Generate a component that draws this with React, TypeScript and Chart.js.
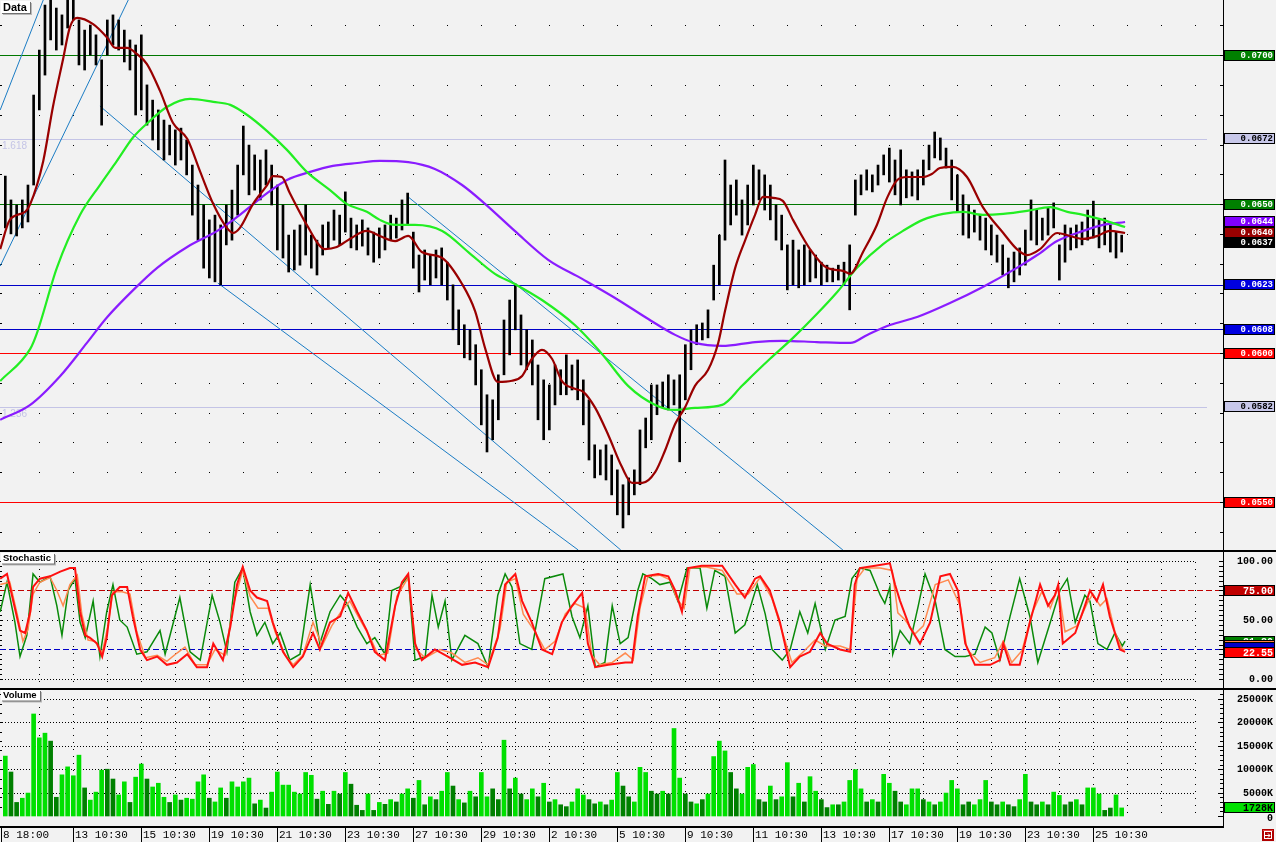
import React, { useEffect, useRef } from "react";
import { Chart, registerables } from "chart.js";

Chart.register(...registerables);

// ---------------- data ----------------
const xTickLabels = ["8 18:00", "13 10:30", "15 10:30", "19 10:30", "21 10:30", "23 10:30", "27 10:30", "29 10:30", "2 10:30", "5 10:30", "9 10:30", "11 10:30", "13 10:30", "17 10:30", "19 10:30", "23 10:30", "25 10:30"];
const BARS_PER_LABEL = 12;
const BARS_PER_GRID = 6;

// prices in units of 0.0001
const highs = [659.4, 651.4, 649.7, 651.4, 656.4, 686.6, 701.7, 716.8, 721, 715.8,
  713.5, 719.5, 720, 711.8, 708.4, 710.1, 706.8, 698.4, 711.8, 713.5,
  711.8, 708.4, 705.1, 703.4, 706.8, 690.0, 684.9, 681.6, 678.2, 676.5,
  674.9, 675.5, 671.5, 663.1, 656.4, 649.7, 644.7, 646.3, 643.0, 649.7,
  654.7, 663.1, 676.2, 669.8, 666.5, 664.8, 668.2, 663.1, 656.4, 649.7,
  639.6, 641.3, 643.0, 649.7, 639.6, 637.9, 643.0, 644.0, 648.0, 646.3,
  654.1, 645.3, 643.0, 644.7, 642.0, 640.6, 642.0, 643.0, 646.3, 645.3,
  651.4, 653.7, 640.6, 632.9, 634.6, 632.9, 634.6, 635.3, 630.5, 622.9,
  614.5, 609.5, 607.8, 602.8, 594.4, 586.0, 584.3, 592.7, 611.1, 617.8,
  623.2, 612.8, 607.8, 604.4, 596.0, 591.0, 589.3, 596.0, 594.4, 599.4,
  596.0, 597.7, 591.0, 584.3, 569.2, 567.5, 569.2, 565.8, 560.8, 555.8,
  558.1, 560.8, 574.2, 578.2, 589.3, 589.3, 590.3, 592.7, 591.0, 592.7,
  602.8, 607.8, 609.5, 610.1, 614.5, 629.5, 639.6, 664.8, 656.4, 658.1,
  651.4, 656.4, 663.1, 661.5, 659.8, 656.4, 649.7, 646.3, 636.3, 637.9,
  634.6, 636.3, 634.6, 632.9, 630.5, 629.5, 628.5, 629.5, 630.5, 636.3,
  658.1, 659.8, 661.5, 659.8, 663.1, 666.5, 668.8, 664.8, 668.2, 661.5,
  660.8, 661.5, 664.8, 669.8, 674.2, 672.2, 668.8, 664.8, 659.8, 653.1,
  649.7, 648.0, 646.3, 645.3, 643.0, 639.6, 636.3, 631.9, 633.9, 635.3,
  641.3, 651.4, 648.0, 645.3, 648.7, 650.4, 636.3, 643.0, 642.0, 643.0,
  644.0, 648.0, 651.0, 644.7, 645.3, 643.0, 640.6, 639.6];
const lows = [642.0, 640.0, 639.3, 642.0, 644.0, 656.4, 681.6, 693.3, 705.1, 701.7,
  703.4, 709.1, 711.8, 696.7, 695.0, 700.0, 696.7, 676.5, 700.0, 703.4,
  701.7, 697.7, 695.0, 679.9, 681.6, 676.5, 671.5, 668.2, 664.8, 666.5,
  663.1, 664.8, 659.8, 646.3, 637.9, 628.5, 625.2, 623.9, 622.9, 636.3,
  637.9, 646.3, 659.8, 653.1, 654.7, 651.4, 656.4, 649.7, 634.6, 631.9,
  627.2, 627.9, 629.5, 632.9, 628.5, 626.2, 632.9, 635.3, 637.9, 636.3,
  640.6, 635.3, 634.6, 635.9, 632.9, 630.5, 631.9, 634.6, 637.9, 638.6,
  641.3, 643.0, 628.5, 620.5, 624.5, 622.9, 625.2, 622.9, 617.8, 607.8,
  602.8, 598.4, 597.7, 589.3, 575.9, 566.8, 570.9, 577.6, 592.7, 599.4,
  607.8, 596.0, 594.4, 589.3, 577.6, 570.9, 574.2, 582.6, 586.0, 586.0,
  587.6, 584.3, 575.9, 564.1, 558.1, 559.1, 557.4, 552.4, 545.7, 541.3,
  545.7, 552.4, 555.8, 568.2, 570.9, 579.3, 581.6, 580.9, 582.6, 563.5,
  584.3, 594.4, 602.8, 604.4, 605.1, 617.8, 622.9, 637.9, 643.0, 646.3,
  639.6, 643.0, 649.7, 651.4, 648.0, 644.7, 637.9, 634.6, 621.2, 622.9,
  621.9, 622.9, 623.9, 625.2, 622.9, 623.9, 623.9, 624.5, 622.9, 614.5,
  646.3, 653.1, 654.7, 654.1, 656.4, 659.8, 657.4, 653.1, 649.7, 652.1,
  652.7, 651.4, 656.4, 661.5, 665.5, 664.8, 662.1, 651.4, 647.4, 639.6,
  638.6, 640.6, 637.9, 634.6, 632.9, 630.5, 626.2, 621.9, 623.9, 626.2,
  629.5, 637.9, 636.3, 637.9, 639.6, 642.0, 624.5, 630.5, 634.6, 635.3,
  636.3, 637.9, 638.6, 635.3, 636.3, 633.9, 631.9, 633.9];
const lastClose = 637;

// volume in thousands
const volumes = [12800, 9400, 2900, 3800, 4900, 21800, 16700, 17700, 16000, 4000,
  8800, 10500, 8600, 13000, 6000, 3400, 5100, 9800, 10000, 7900,
  4500, 7300, 2900, 8300, 11100, 7900, 6200, 7000, 4000, 2900,
  4500, 3400, 3800, 3600, 7300, 8800, 3800, 3000, 6000, 3800,
  7300, 6200, 7300, 8100, 2600, 3400, 1700, 5100, 9400, 6600,
  6600, 5100, 4700, 9300, 8700, 3600, 5300, 2500, 5300, 4700,
  9300, 6800, 2300, 1200, 4700, 1200, 2900, 2500, 3500, 3000,
  4700, 5800, 3800, 7600, 2400, 4100, 3500, 5300, 9300, 6400,
  3500, 2800, 5300, 4100, 9300, 4100, 5800, 3500, 16200, 5800,
  8100, 4700, 3500, 5800, 4100, 7000, 3000, 3500, 2400, 2000,
  3000, 5800, 4500, 3500, 2600, 3000, 2400, 3400, 9300, 6400,
  4100, 3000, 10400, 9300, 5300, 4700, 5300, 4700, 18700, 8100,
  4700, 3000, 2600, 3500, 4700, 12700, 16000, 13900, 9300, 5800,
  4700, 10400, 11000, 3500, 3000, 6400, 3500, 4100, 11400, 4100,
  7000, 3000, 8400, 5300, 3500, 1800, 2400, 2400, 3000, 7600,
  9900, 5800, 3000, 3500, 3000, 8900, 7000, 5300, 3000, 2400,
  5800, 5800, 3500, 3000, 2400, 3000, 4900, 7600, 5800, 2400,
  3000, 2400, 3500, 7600, 3000, 2400, 3000, 2400, 2000, 3500,
  8900, 3000, 2400, 3000, 2400, 5100, 4400, 2400, 3000, 3500,
  2400, 6000, 6000, 4700, 1200, 1700, 4500, 1728];
const upBars = [1, 0, 0, 1, 1, 1, 1, 1, 0, 0, 1, 1, 1, 1, 0, 1, 1, 1, 0, 0,
  1, 1, 0, 1, 1, 0, 1, 1, 1, 0, 1, 0, 1, 1, 1, 1, 0, 1, 1, 0,
  1, 1, 1, 1, 0, 1, 0, 1, 1, 1, 1, 1, 1, 1, 1, 0, 1, 0, 1, 0,
  1, 0, 0, 0, 1, 0, 1, 0, 1, 0, 1, 1, 0, 1, 0, 1, 0, 1, 1, 0,
  1, 0, 1, 0, 1, 1, 0, 0, 1, 0, 1, 0, 1, 1, 0, 1, 0, 1, 0, 0,
  1, 1, 1, 0, 0, 1, 0, 1, 1, 0, 0, 1, 1, 1, 0, 0, 1, 0, 1, 1,
  0, 0, 1, 0, 1, 1, 1, 1, 0, 0, 1, 1, 1, 0, 0, 1, 0, 1, 1, 0,
  1, 0, 1, 1, 0, 0, 1, 0, 1, 1, 1, 1, 0, 1, 0, 1, 1, 0, 0, 1,
  1, 1, 0, 1, 0, 1, 1, 1, 1, 0, 0, 1, 1, 1, 0, 0, 1, 0, 0, 1,
  1, 0, 0, 1, 0, 1, 1, 0, 0, 1, 0, 1, 1, 1, 0, 0, 1, 1];
const lastVolume = 1728;
const volumeGrid = [5000, 10000, 15000, 20000, 25000];

// moving averages: [bar index, price in 0.0001]
const maFast = [[-0.9, 634.9], [0.8, 644.7], [3.5, 647.4], [4.4, 650.0], [6.7, 664.5], [8.4, 682.6], [10.2, 698.7], [11.4, 709.4], [12.7, 712.5], [15.5, 710.4], [18.0, 705.8], [19.4, 702.4], [21.5, 702.4], [23.2, 700.4], [25.0, 697.0], [27.3, 688.0], [29.6, 677.2], [32.1, 671.9], [34.4, 660.8], [36.7, 650.0], [39.1, 642.0], [40.2, 640.3], [41.4, 642.0], [43.7, 650.0], [46.2, 656.4], [47.2, 659.4], [48.8, 659.1], [50.2, 653.7], [53.2, 643.0], [56.4, 634.9], [58.5, 635.6], [60.8, 638.3], [63.8, 641.0], [66.1, 639.3], [68.8, 637.6], [71.1, 639.3], [73.5, 633.9], [77.1, 631.9], [80.6, 623.2], [82.9, 614.1], [84.7, 601.4], [86.9, 590.3], [89.4, 590.7], [91.2, 592.3], [92.9, 598.0], [94.7, 601.1], [96.5, 598.0], [98.2, 590.7], [100.5, 588.0], [102.0, 587.0], [104.1, 581.6], [106.4, 572.5], [108.8, 561.8], [110.6, 556.4], [112.4, 556.4], [114.7, 560.1], [116.4, 567.2], [118.2, 576.2], [119.9, 581.6], [121.7, 589.0], [124.0, 594.3], [125.8, 603.4], [127.0, 614.1], [128.8, 628.6], [130.5, 637.6], [132.3, 646.4], [133.7, 652.4], [135.5, 652.1], [137.2, 651.1], [139.0, 644.7], [142.0, 634.9], [145.0, 628.6], [147.8, 627.6], [149.1, 626.6], [151.4, 634.1], [153.8, 643.0], [155.6, 652.1], [157.4, 658.1], [159.1, 659.1], [161.9, 659.1], [163.5, 660.1], [164.9, 662.1], [167.2, 662.5], [169.7, 659.1], [172.5, 649.0], [176.1, 640.3], [178.5, 634.9], [180.3, 632.9], [182.6, 634.9], [185.6, 640.3], [187.9, 639.3], [190.2, 638.3], [192.7, 639.3], [194.9, 641.0], [197.6, 640.3]];
const maMid = [[-0.9, 590.6], [4.4, 601.4], [5.6, 606.8], [9.1, 628.6], [13.2, 646.4], [16.7, 656.4], [19.7, 664.5], [22.6, 672.5], [25.5, 677.9], [28.5, 682.6], [32.6, 685.3], [36.7, 684.3], [39.7, 683.3], [42.7, 679.9], [46.2, 674.5], [49.7, 668.2], [53.2, 660.8], [57.3, 654.7], [60.3, 650.0], [63.8, 647.4], [66.1, 644.7], [68.8, 643.0], [72.3, 643.0], [77.1, 641.0], [81.7, 633.9], [86.4, 626.6], [89.9, 623.2], [94.7, 617.8], [100.5, 609.4], [105.3, 599.7], [109.9, 589.0], [114.7, 582.6], [118.2, 580.9], [121.7, 581.6], [126.5, 582.6], [130.0, 589.0], [132.3, 593.3], [134.9, 598.0], [139.0, 605.1], [143.2, 613.1], [146.8, 620.5], [150.3, 628.6], [154.9, 636.6], [158.4, 641.0], [161.9, 644.7], [165.5, 646.7], [169.0, 647.4], [172.5, 646.4], [176.1, 646.7], [180.3, 647.7], [184.4, 649.0], [187.4, 647.4], [190.2, 646.4], [193.7, 644.7], [197.6, 642.3]];
const maSlow = [[-0.9, 577.6], [4.4, 582.6], [9.7, 592.3], [14.4, 603.4], [18.0, 612.1], [22.6, 621.2], [26.8, 628.6], [32.1, 635.6], [37.4, 641.0], [41.4, 646.4], [46.2, 653.7], [49.7, 658.1], [53.8, 660.8], [57.8, 662.8], [62.1, 663.8], [66.1, 664.5], [71.1, 664.1], [75.8, 661.8], [80.6, 656.4], [84.7, 650.0], [89.9, 641.0], [95.8, 631.3], [101.8, 624.9], [107.6, 618.5], [113.4, 611.5], [118.2, 606.1], [121.7, 603.4], [126.5, 602.4], [132.3, 603.7], [137.2, 604.1], [143.2, 603.7], [149.1, 603.4], [152.1, 606.1], [156.1, 609.4], [160.9, 612.1], [166.7, 616.8], [172.5, 622.2], [178.5, 628.6], [182.1, 632.9], [185.6, 637.6], [190.2, 641.0], [193.7, 643.0], [197.6, 644.0]];

// trend lines: [[index, price], [index, price]]
const trendLines = [
  [[-0.9, 681.6], [6.7, 718.5]],
  [[-0.9, 629.2], [21.7, 718.5]],
  [[16.7, 682.9], [108.6, 533.9]],
  [[37.5, 623.5], [101.1, 533.9]],
  [[70.9, 652.7], [147.8, 533.9]],
];

// horizontal levels (0.0001 units)
const levelValues = [700, 672, 650, 623, 608, 600, 582, 550];
const fibLevels = [672, 582];
const fibNames = ["1.618", "1.236"];

// stochastic: [bar index, value]
const stochRed = [[-0.9, 85], [0.3, 89], [1.4, 66], [2.6, 41], [3.5, 39], [4.4, 57], [4.9, 78], [6.1, 85], [7.9, 87], [9.7, 91], [11.4, 94], [12.3, 94], [13.2, 57], [14.1, 37], [14.9, 35], [16.2, 30], [17.1, 19], [17.9, 35], [18.8, 71], [20.2, 78], [21.5, 78], [22.5, 53], [23.8, 25], [25.0, 16], [26.8, 19], [28.5, 12], [30.3, 14], [32.1, 21], [33.8, 10], [35.6, 10], [36.7, 30], [38.4, 16], [39.7, 44], [40.9, 80], [41.9, 95], [43.2, 75], [44.4, 69], [46.2, 66], [47.2, 48], [49.0, 23], [50.8, 10], [52.5, 19], [54.3, 39], [55.5, 25], [57.3, 48], [59.1, 53], [60.5, 73], [62.1, 57], [63.8, 41], [65.2, 23], [67.0, 16], [68.8, 62], [70.0, 82], [71.1, 89], [72.3, 30], [73.5, 16], [75.8, 25], [78.1, 19], [80.6, 12], [82.9, 14], [85.2, 10], [86.9, 35], [88.2, 80], [90.0, 89], [91.2, 66], [92.9, 48], [94.7, 25], [96.5, 21], [98.2, 48], [100.0, 62], [101.8, 73], [102.8, 30], [104.1, 10], [106.4, 12], [109.4, 14], [110.6, 14], [111.6, 53], [112.9, 87], [115.2, 89], [117.0, 87], [118.2, 75], [119.4, 57], [120.5, 94], [122.9, 96], [126.5, 96], [128.8, 80], [130.5, 69], [132.3, 85], [133.2, 87], [134.9, 75], [136.7, 48], [138.5, 10], [140.2, 19], [142.0, 23], [143.8, 39], [145.0, 30], [147.3, 25], [149.1, 23], [149.9, 80], [150.8, 94], [153.5, 96], [156.1, 98], [157.0, 80], [157.9, 66], [159.6, 44], [161.4, 30], [163.2, 48], [165.0, 87], [166.7, 89], [168.1, 75], [169.4, 30], [171.1, 12], [173.8, 12], [175.5, 16], [176.1, 30], [177.3, 12], [179.0, 12], [180.8, 48], [182.6, 80], [184.0, 62], [185.2, 71], [185.8, 80], [186.6, 30], [188.8, 39], [190.5, 62], [191.4, 75], [192.6, 66], [193.7, 80], [194.9, 53], [196.7, 25], [197.6, 23]];
const stochOrange = [[-0.9, 80], [0.8, 82], [2.1, 55], [3.1, 32], [4.0, 42], [4.9, 72], [6.1, 82], [7.9, 86], [9.1, 75], [10.2, 62], [11.4, 80], [12.7, 88], [13.5, 55], [14.6, 33], [15.8, 32], [17.1, 22], [18.1, 45], [19.0, 74], [20.6, 74], [22.0, 72], [23.2, 40], [24.7, 18], [26.8, 20], [28.5, 15], [30.3, 22], [31.7, 27], [33.5, 12], [35.6, 12], [37.0, 25], [38.8, 20], [40.2, 62], [41.9, 92], [43.2, 70], [44.6, 60], [46.4, 60], [47.6, 40], [49.4, 20], [50.8, 12], [52.5, 20], [54.3, 48], [55.9, 28], [57.6, 45], [59.4, 58], [60.8, 66], [62.6, 50], [64.4, 35], [65.8, 20], [67.5, 22], [69.1, 70], [71.1, 86], [72.5, 25], [74.1, 18], [76.7, 25], [78.8, 22], [81.1, 14], [83.4, 18], [85.2, 12], [87.3, 42], [88.5, 82], [90.0, 85], [91.4, 55], [93.5, 40], [95.2, 25], [97.0, 32], [98.8, 55], [100.5, 64], [102.3, 60], [103.5, 20], [104.9, 12], [107.1, 14], [109.4, 22], [110.8, 16], [112.0, 60], [113.4, 87], [115.5, 88], [117.3, 84], [118.5, 68], [119.8, 60], [120.8, 94], [123.5, 95], [126.5, 92], [129.1, 72], [131.1, 72], [133.2, 86], [135.3, 68], [137.1, 40], [138.8, 14], [140.6, 22], [142.9, 33], [144.7, 28], [147.3, 28], [149.1, 25], [150.3, 85], [151.7, 94], [154.4, 94], [156.5, 92], [157.5, 56], [158.8, 50], [160.5, 38], [162.0, 45], [164.1, 80], [166.4, 84], [168.5, 62], [169.7, 25], [172.0, 14], [174.6, 18], [176.1, 32], [177.6, 14], [179.4, 24], [181.2, 56], [182.9, 74], [184.4, 60], [185.8, 78], [187.0, 40], [189.1, 45], [190.9, 64], [191.9, 72], [193.2, 62], [194.4, 68], [195.8, 40], [197.1, 25], [197.6, 25]];
const stochGreen = [[-0.9, 57], [0.3, 82], [1.7, 48], [2.6, 19], [3.8, 37], [4.9, 89], [6.1, 82], [7.9, 87], [9.1, 62], [10.0, 37], [11.1, 75], [12.3, 85], [13.2, 48], [14.1, 35], [15.5, 66], [16.7, 19], [17.9, 57], [19.0, 80], [20.2, 50], [21.5, 44], [23.2, 21], [25.0, 23], [27.3, 41], [28.2, 21], [30.8, 69], [32.6, 23], [34.4, 16], [36.5, 71], [37.9, 48], [39.1, 23], [40.5, 82], [41.9, 94], [43.2, 57], [44.4, 37], [45.8, 48], [47.2, 30], [48.5, 39], [50.2, 16], [52.0, 21], [53.8, 80], [55.5, 30], [57.3, 57], [59.1, 71], [60.3, 64], [62.1, 44], [63.8, 30], [65.2, 35], [67.0, 21], [68.2, 75], [69.6, 78], [71.1, 87], [72.3, 16], [74.1, 19], [75.3, 71], [76.4, 44], [77.6, 66], [78.8, 16], [81.1, 37], [83.4, 30], [85.2, 10], [86.9, 71], [88.2, 89], [89.4, 78], [90.8, 30], [92.9, 25], [95.2, 85], [98.4, 89], [100.0, 53], [101.4, 35], [102.8, 62], [104.1, 10], [105.8, 14], [107.1, 62], [108.5, 30], [109.9, 35], [111.6, 75], [112.5, 89], [114.1, 85], [115.5, 80], [117.3, 82], [118.7, 66], [120.3, 94], [122.6, 94], [123.8, 60], [125.2, 92], [127.0, 87], [128.8, 39], [130.5, 46], [132.7, 80], [134.1, 55], [135.3, 25], [137.1, 16], [138.5, 25], [140.2, 57], [141.6, 39], [142.9, 64], [144.7, 25], [146.4, 50], [148.2, 53], [149.4, 85], [150.8, 94], [152.6, 92], [154.4, 71], [155.2, 64], [156.1, 78], [156.6, 21], [157.9, 41], [159.6, 30], [161.1, 62], [162.3, 89], [164.1, 66], [165.8, 25], [167.6, 19], [169.4, 19], [171.1, 21], [172.9, 44], [174.1, 39], [175.5, 16], [177.3, 53], [179.0, 85], [180.8, 53], [182.2, 14], [184.4, 48], [186.1, 75], [187.4, 85], [188.8, 48], [190.5, 71], [191.4, 66], [192.8, 30], [194.4, 25], [195.8, 39], [197.1, 28], [197.6, 32]];
const stochLevels = [75, 25];
const stochLastRed = 22.55;
const stochLastGreen = 31.8;
const stochLastOrange = 28.4;
const stochLastBlue = 26.7;

// ---------------- layout / style ----------------
const W = 1276;
const RIGHT_W = 53;
const BG = "#f2f2f2";
const X_MIN = -0.935;
const X_MAX = X_MIN + (W - RIGHT_W) / 5.667;
const MONO = '"Liberation Mono", "DejaVu Sans Mono", monospace';
const SANS = '"Liberation Sans", Arial, sans-serif';
const levelColors = ["#007800", "#c4c4e6", "#007800", "#0000c8", "#0000c8", "#ff0000", "#c4c4e6", "#ff0000"];
const levelBoxFill = ["#008000", "#c8c8ea", "#008000", "#0000e0", "#0000e0", "#ff0000", "#c8c8ea", "#ff0000"];
const levelBoxText = ["#fff", "#000", "#fff", "#fff", "#fff", "#fff", "#000", "#fff"];

const pc = (v: number) => v / 10000;

function box(ctx: CanvasRenderingContext2D, chart: any, cy: number, fill: string, text: string, color: string, font?: string) {
  const a = chart.chartArea;
  const x = a.right + 1;
  const w = chart.width - x - 1;
  const h = 11;
  const top = Math.round(cy - h / 2);
  ctx.fillStyle = fill;
  ctx.fillRect(x, top, w, h);
  ctx.strokeStyle = "#000";
  ctx.lineWidth = 1;
  ctx.strokeRect(x + 0.5, top + 0.5, w - 1, h - 1);
  if (!text) return;
  ctx.fillStyle = color;
  ctx.font = font || `bold 9px ${MONO}`;
  ctx.textAlign = "right";
  ctx.textBaseline = "middle";
  ctx.fillText(text, x + w - 2, top + h / 2 + 0.5);
}

function titleBox(ctx: CanvasRenderingContext2D, x: number, y: number, text: string, size: number) {
  ctx.font = `bold ${size}px ${SANS}`;
  const tw = ctx.measureText(text).width;
  const bw = Math.round(tw + 5);
  const bh = size + 1;
  ctx.fillStyle = "#b8b8b8";
  ctx.fillRect(x + 2, y + 2, bw, bh);
  ctx.fillStyle = "#707070";
  ctx.fillRect(x + 1, y + 1, bw, bh);
  ctx.fillStyle = "#ffffff";
  ctx.fillRect(x, y, bw, bh);
  ctx.fillStyle = "#000";
  ctx.textAlign = "left";
  ctx.textBaseline = "middle";
  ctx.fillText(text, x + 2, y + bh / 2 + 0.5);
}

function vGridXs(chart: any) {
  const xs: number[] = [];
  const a = chart.chartArea;
  for (let i = BARS_PER_GRID; ; i += BARS_PER_GRID) {
    const px = Math.round(chart.scales.x.getPixelForValue(i));
    if (px > a.right - 20) break;
    xs.push(px);
  }
  return xs;
}

function baseOptions(yMin: number, yMax: number, padding: any) {
  return {
    responsive: false,
    maintainAspectRatio: false,
    animation: false,
    devicePixelRatio: 1,
    events: [],
    layout: { padding },
    plugins: { legend: { display: false }, tooltip: { enabled: false }, title: { display: false } },
    scales: {
      x: { type: "linear", min: X_MIN, max: X_MAX, display: false, offset: false, bounds: "data" },
      y: { type: "linear", min: yMin, max: yMax, display: false, bounds: "data", beginAtZero: false },
    },
  };
}

// ---------------- plugins ----------------
const pricePlugin = {
  id: "pricePanel",
  beforeDraw(chart: any) {
    const ctx = chart.ctx;
    ctx.save();
    ctx.fillStyle = BG;
    ctx.fillRect(0, 0, chart.width, chart.height);
    ctx.restore();
  },
  beforeDatasetsDraw(chart: any) {
    const ctx: CanvasRenderingContext2D = chart.ctx;
    const a = chart.chartArea;
    const y = chart.scales.y;
    ctx.save();
    ctx.fillStyle = "#000";
    const xs = vGridXs(chart);
    for (let p = 540; p <= 715; p += 10) {
      const py = Math.round(y.getPixelForValue(pc(p)));
      if (py < a.top || py > a.bottom) continue;
      xs.forEach((px) => ctx.fillRect(px, py, 1, 1));
      ctx.fillRect(a.left, py, 2, 1);
    }
    levelValues.forEach((v, k) => {
      const py = Math.round(y.getPixelForValue(pc(v)));
      const lav = levelColors[k] === "#c4c4e6";
      ctx.fillStyle = levelColors[k];
      ctx.fillRect(a.left, py, (lav ? a.right - 16 : a.right) - a.left, 1);
    });
    ctx.font = `10px ${SANS}`;
    ctx.fillStyle = "#c4c4e6";
    ctx.textAlign = "left";
    ctx.textBaseline = "top";
    fibLevels.forEach((v, k) => {
      const py = Math.round(y.getPixelForValue(pc(v)));
      ctx.fillText(fibNames[k], 2, py + 2);
    });
    ctx.restore();
  },
  afterDatasetsDraw(chart: any) {
    const ctx: CanvasRenderingContext2D = chart.ctx;
    const a = chart.chartArea;
    const y = chart.scales.y;
    ctx.save();
    ctx.fillStyle = BG;
    ctx.fillRect(a.right, 0, chart.width - a.right, chart.height);
    ctx.fillStyle = "#000";
    ctx.fillRect(a.right, 0, 1, chart.height);
    for (let p = 540; p <= 715; p += 10) {
      const py = Math.round(y.getPixelForValue(pc(p)));
      ctx.fillRect(a.right - 3, py, 3, 1);
    }
    levelValues.forEach((v, k) => {
      box(ctx, chart, y.getPixelForValue(pc(v)), levelBoxFill[k], pc(v).toFixed(4), levelBoxText[k]);
    });
    const slowLast = maSlow[maSlow.length - 1][1];
    const fastLast = maFast[maFast.length - 1][1];
    box(ctx, chart, y.getPixelForValue(pc(slowLast)), "#8000ff", pc(slowLast).toFixed(4), "#fff");
    box(ctx, chart, y.getPixelForValue(pc(fastLast)), "#990000", pc(fastLast).toFixed(4), "#fff");
    box(ctx, chart, y.getPixelForValue(pc(lastClose)), "#000000", pc(lastClose).toFixed(4), "#fff");
    titleBox(ctx, 1, 1, "Data", 11);
    ctx.restore();
  },
};

function hDots(ctx: CanvasRenderingContext2D, x0: number, x1: number, y: number, step: number) {
  for (let x = x0; x <= x1; x += step) ctx.fillRect(Math.round(x), Math.round(y), 1, 1);
}
function vDots(ctx: CanvasRenderingContext2D, x: number, y0: number, y1: number, step: number) {
  for (let y = y0; y <= y1; y += step) ctx.fillRect(Math.round(x), Math.round(y), 1, 1);
}
function dashH(ctx: CanvasRenderingContext2D, x0: number, x1: number, y: number, color: string) {
  ctx.strokeStyle = color;
  ctx.lineWidth = 1;
  ctx.setLineDash([6, 3]);
  ctx.beginPath();
  ctx.moveTo(x0, Math.round(y) + 0.5);
  ctx.lineTo(x1, Math.round(y) + 0.5);
  ctx.stroke();
  ctx.setLineDash([]);
}

const stochPlugin = {
  id: "stochPanel",
  beforeDraw(chart: any) {
    const ctx = chart.ctx;
    ctx.save();
    ctx.fillStyle = BG;
    ctx.fillRect(0, 0, chart.width, chart.height);
    ctx.restore();
  },
  beforeDatasetsDraw(chart: any) {
    const ctx: CanvasRenderingContext2D = chart.ctx;
    const a = chart.chartArea;
    const y = chart.scales.y;
    ctx.save();
    ctx.fillStyle = "#000";
    const hEnd = a.right - 29;
    vGridXs(chart).forEach((px) => vDots(ctx, px, a.top + 10, a.bottom - 4, 7));
    hDots(ctx, a.left + 2, hEnd, y.getPixelForValue(100), 3);
    hDots(ctx, a.left + 2, hEnd, y.getPixelForValue(0), 3);
    hDots(ctx, a.left + 2, hEnd, y.getPixelForValue(50), 5);
    for (let v = 0; v <= 104; v += 25 / 6) {
      const py = Math.round(y.getPixelForValue(v));
      ctx.fillRect(a.left, py, 2, 1);
    }
    dashH(ctx, a.left, a.right, y.getPixelForValue(stochLevels[0]), "#c00000");
    dashH(ctx, a.left, a.right, y.getPixelForValue(stochLevels[1]), "#0000c8");
    ctx.restore();
  },
  afterDatasetsDraw(chart: any) {
    const ctx: CanvasRenderingContext2D = chart.ctx;
    const a = chart.chartArea;
    const y = chart.scales.y;
    ctx.save();
    ctx.fillStyle = BG;
    ctx.fillRect(a.right, 0, chart.width - a.right, chart.height);
    ctx.fillStyle = "#000";
    ctx.fillRect(0, 0, chart.width, 2);
    ctx.fillRect(a.right, 0, 1, chart.height);
    for (let v = 0; v <= 104; v += 25 / 6) {
      const py = Math.round(y.getPixelForValue(v));
      ctx.fillRect(a.right - 4, py, 4, 1);
    }
    ctx.font = `bold 10px ${MONO}`;
    ctx.textAlign = "right";
    ctx.textBaseline = "middle";
    [100, 50, 0].forEach((v) => ctx.fillText(v.toFixed(2), chart.width - 3, y.getPixelForValue(v) + 0.5));
    const f = `bold 10px ${MONO}`;
    box(ctx, chart, y.getPixelForValue(stochLevels[0]), "#c00000", stochLevels[0].toFixed(2), "#fff", f);
    box(ctx, chart, y.getPixelForValue(stochLastGreen), "#008000", stochLastGreen.toFixed(2), "#fff", f);
    box(ctx, chart, y.getPixelForValue(stochLastOrange), "#ff8040", "", "#fff", f);
    box(ctx, chart, y.getPixelForValue(stochLastBlue), "#0000c8", "", "#fff", f);
    box(ctx, chart, y.getPixelForValue(stochLastRed), "#ff0000", stochLastRed.toFixed(2), "#fff", f);
    titleBox(ctx, 1, 3, "Stochastic", 9.5);
    ctx.restore();
  },
};

const volumePlugin = {
  id: "volumePanel",
  beforeDraw(chart: any) {
    const ctx = chart.ctx;
    ctx.save();
    ctx.fillStyle = BG;
    ctx.fillRect(0, 0, chart.width, chart.height);
    ctx.restore();
  },
  beforeDatasetsDraw(chart: any) {
    const ctx: CanvasRenderingContext2D = chart.ctx;
    const a = chart.chartArea;
    const y = chart.scales.y;
    ctx.save();
    ctx.fillStyle = "#000";
    const hEnd = a.right - 29;
    vGridXs(chart).forEach((px) => vDots(ctx, px, a.top + 10, y.getPixelForValue(0), 7));
    volumeGrid.forEach((v) => hDots(ctx, a.left + 2, hEnd, y.getPixelForValue(v), 3));
    for (let v = 2000; v <= 26000; v += 2000) {
      ctx.fillRect(a.left, Math.round(y.getPixelForValue(v)), 2, 1);
    }
    ctx.restore();
  },
  afterDatasetsDraw(chart: any) {
    const ctx: CanvasRenderingContext2D = chart.ctx;
    const a = chart.chartArea;
    const x = chart.scales.x;
    const y = chart.scales.y;
    ctx.save();
    ctx.fillStyle = BG;
    ctx.fillRect(a.right, 0, chart.width - a.right, chart.height);
    ctx.fillRect(0, a.bottom, chart.width, chart.height - a.bottom);
    ctx.fillStyle = "#000";
    ctx.fillRect(0, 0, chart.width, 2);
    ctx.fillRect(a.right, 0, 1, a.bottom + 2);
    ctx.fillRect(0, a.bottom, a.right + 1, 2);
    for (let v = 0; v <= 26000; v += 1000) {
      const py = Math.round(y.getPixelForValue(v));
      const len = v % 5000 === 0 ? 5 : 3;
      ctx.fillRect(a.right - len, py, len, 1);
    }
    ctx.font = `bold 10px ${MONO}`;
    ctx.textAlign = "right";
    ctx.textBaseline = "middle";
    volumeGrid.forEach((v) => ctx.fillText(`${v}K`, chart.width - 3, y.getPixelForValue(v) + 0.5));
    ctx.fillText("0", chart.width - 3, y.getPixelForValue(0) + 2);
    box(ctx, chart, y.getPixelForValue(lastVolume), "#00e000", `${lastVolume}K`, "#000", `bold 10px ${MONO}`);
    ctx.font = `11px ${MONO}`;
    ctx.textAlign = "left";
    ctx.textBaseline = "middle";
    const rowTop = a.bottom + 2;
    xTickLabels.forEach((lab, k) => {
      let px = Math.round(x.getPixelForValue(k * BARS_PER_LABEL));
      if (k === 0) px = a.left + 1;
      ctx.fillStyle = "#000";
      ctx.fillRect(px, rowTop, 1, chart.height - rowTop);
      ctx.fillText(lab, px + 2, rowTop + (chart.height - rowTop) / 2 + 0.5);
    });
    const ix = chart.width - 14, iy = rowTop + 1, is = 12;
    ctx.fillStyle = "#b00000";
    ctx.fillRect(ix, iy, is, is);
    ctx.fillStyle = "#e04040";
    ctx.fillRect(ix + 1, iy + 1, is - 2, 1);
    ctx.strokeStyle = "#fff";
    ctx.lineWidth = 1;
    ctx.strokeRect(ix + 2.5, iy + 2.5, is - 5, is - 5);
    ctx.beginPath();
    ctx.moveTo(ix + 3, iy + 6.5);
    ctx.lineTo(ix + 8, iy + 6.5);
    ctx.moveTo(ix + 6, iy + 4.5);
    ctx.lineTo(ix + 8, iy + 6.5);
    ctx.lineTo(ix + 6, iy + 8.5);
    ctx.stroke();
    titleBox(ctx, 1, 2, "Volume", 9.5);
    ctx.restore();
  },
};

// ---------------- configs ----------------
function priceConfig(): any {
  const lineDs = (pts: number[][], color: string) => ({
    type: "line",
    data: pts.map(([x, v]) => ({ x, y: pc(v) })),
    borderColor: color,
    borderWidth: 2.2,
    pointRadius: 0,
    fill: false,
    cubicInterpolationMode: "monotone",
  });
  return {
    type: "bar",
    data: {
      datasets: [
        lineDs(maFast, "#990000"),
        lineDs(maMid, "#22ee22"),
        lineDs(maSlow, "#8a1cff"),
        {
          type: "bar",
          data: highs.map((h, i) => ({ x: i, y: [pc(lows[i]), pc(h)] })),
          backgroundColor: "#000",
          borderWidth: 0,
          barThickness: 2,
        },
        ...trendLines.map((seg) => ({
          type: "line",
          data: seg.map(([x, v]) => ({ x, y: pc(v) })),
          borderColor: "#1b7cc4",
          borderWidth: 1,
          pointRadius: 0,
          fill: false,
        })),
      ],
    },
    options: baseOptions(pc(533.9), pc(718.5), { top: 0, right: RIGHT_W, bottom: 0, left: 0 }),
    plugins: [pricePlugin],
  };
}

function stochConfig(): any {
  const ds = (pts: number[][], color: string, w: number) => ({
    data: pts.map(([x, v]) => ({ x, y: v })),
    borderColor: color,
    borderWidth: w,
    pointRadius: 0,
    fill: false,
    tension: 0,
  });
  return {
    type: "line",
    data: {
      datasets: [
        ds(stochRed, "#ff1010", 2),
        ds(stochOrange, "#ff8a50", 1.5),
        ds(stochGreen, "#0a8a0a", 1.5),
      ],
    },
    options: baseOptions(-7.63, 107.6, { top: 2, right: RIGHT_W, bottom: 0, left: 0 }),
    plugins: [stochPlugin],
  };
}

function volumeConfig(): any {
  return {
    type: "bar",
    data: {
      datasets: [
        {
          data: volumes.map((v, i) => ({ x: i, y: v })),
          backgroundColor: upBars.map((u) => (u ? "#00e000" : "#008000")),
          borderWidth: 0,
          barThickness: 4,
        },
      ],
    },
    options: baseOptions(-2137, 26923, { top: 2, right: RIGHT_W, bottom: 16, left: 0 }),
    plugins: [volumePlugin],
  };
}

export default function App() {
  const priceRef = useRef<HTMLCanvasElement>(null);
  const stochRef = useRef<HTMLCanvasElement>(null);
  const volRef = useRef<HTMLCanvasElement>(null);

  useEffect(() => {
    const charts: Chart[] = [];
    if (priceRef.current) charts.push(new Chart(priceRef.current, priceConfig()));
    if (stochRef.current) charts.push(new Chart(stochRef.current, stochConfig()));
    if (volRef.current) charts.push(new Chart(volRef.current, volumeConfig()));
    return () => charts.forEach((c) => c.destroy());
  }, []);

  const cs = (top: number, h: number): any => ({ position: "absolute", left: 0, top, width: W, height: h, display: "block" });
  return (
    <div style={{ position: "fixed", left: 0, top: 0, width: W, height: 842, background: BG, overflow: "hidden" }}>
      <canvas ref={priceRef} width={W} height={550} style={cs(0, 550)} />
      <canvas ref={stochRef} width={W} height={138} style={cs(550, 138)} />
      <canvas ref={volRef} width={W} height={154} style={cs(688, 154)} />
    </div>
  );
}
